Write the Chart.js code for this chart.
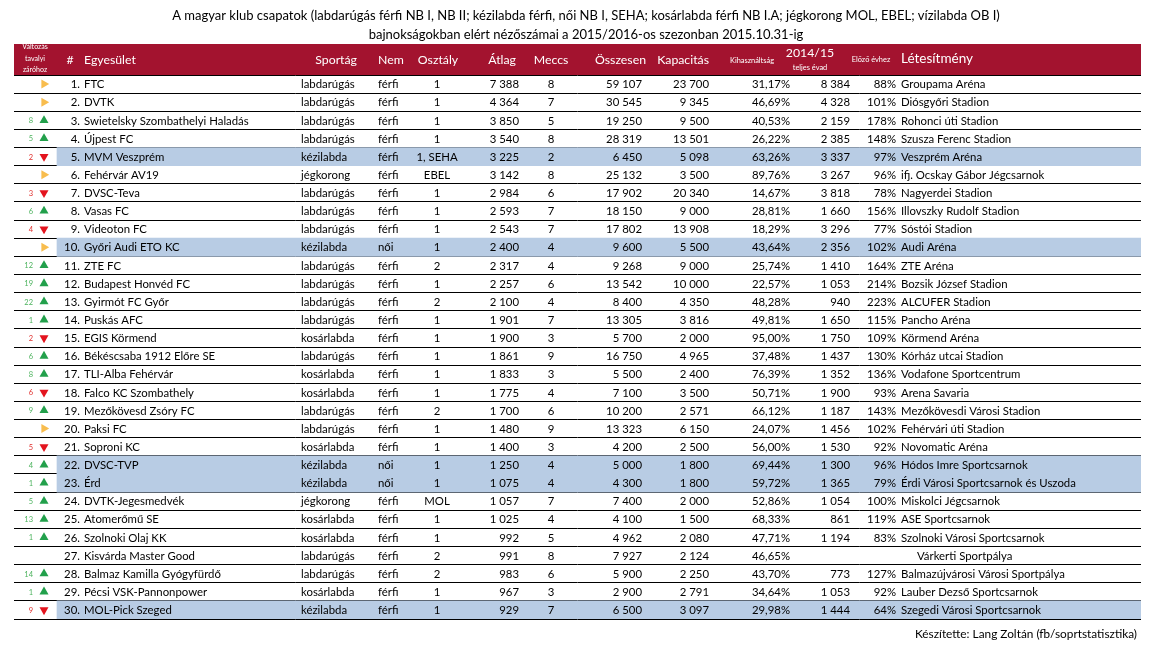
<!DOCTYPE html>
<html><head><meta charset="utf-8">
<script src="https://cdn.jsdelivr.net/npm/chart.js@4.4.1/dist/chart.umd.min.js"></script>
<style>html,body{margin:0;padding:0;background:#fff}canvas{display:block}</style>
</head><body>
<canvas id="c" width="1152" height="648" style="width:1152px;height:648px"></canvas>
<script>
// ---------------- DATA ----------------
const titleLines = [
  'A magyar klub csapatok (labdarúgás férfi NB I, NB II; kézilabda férfi, női NB I, SEHA; kosárlabda férfi NB I.A; jégkorong MOL, EBEL; vízilabda OB I)',
  'bajnokságokban elért nézőszámai a 2015/2016-os szezonban 2015.10.31-ig'
];
const footerText = 'Készítette: Lang Zoltán (fb/soprtstatisztika)';
const ranks = [1,2,3,4,5,6,7,8,9,10,11,12,13,14,15,16,17,18,19,20,21,22,23,24,25,26,27,28,29,30];
const clubs = ['FTC','DVTK','Swietelsky Szombathelyi Haladás','Újpest FC','MVM Veszprém','Fehérvár AV19','DVSC-Teva','Vasas FC','Videoton FC','Győri Audi ETO KC','ZTE FC','Budapest Honvéd FC','Gyirmót FC Győr','Puskás AFC','EGIS Körmend','Békéscsaba 1912 Előre SE','TLI-Alba Fehérvár','Falco KC Szombathely','Mezőkövesd Zsóry FC','Paksi FC','Soproni KC','DVSC-TVP','Érd','DVTK-Jegesmedvék','Atomerőmű SE','Szolnoki Olaj KK','Kisvárda Master Good','Balmaz Kamilla Gyógyfürdő','Pécsi VSK-Pannonpower','MOL-Pick Szeged'];
const sports = ['labdarúgás','labdarúgás','labdarúgás','labdarúgás','kézilabda','jégkorong','labdarúgás','labdarúgás','labdarúgás','kézilabda','labdarúgás','labdarúgás','labdarúgás','labdarúgás','kosárlabda','labdarúgás','kosárlabda','kosárlabda','labdarúgás','labdarúgás','kosárlabda','kézilabda','kézilabda','jégkorong','kosárlabda','kosárlabda','labdarúgás','labdarúgás','kosárlabda','kézilabda'];
const genders = ['férfi','férfi','férfi','férfi','férfi','férfi','férfi','férfi','férfi','női','férfi','férfi','férfi','férfi','férfi','férfi','férfi','férfi','férfi','férfi','férfi','női','női','férfi','férfi','férfi','férfi','férfi','férfi','férfi'];
const divisions = ['1','1','1','1','1, SEHA','EBEL','1','1','1','1','2','1','2','1','1','1','1','1','2','1','1','1','1','MOL','1','1','2','2','1','1'];
const averages = [7388,4364,3850,3540,3225,3142,2984,2593,2543,2400,2317,2257,2100,1901,1900,1861,1833,1775,1700,1480,1400,1250,1075,1057,1025,992,991,983,967,929];
const matches = [8,7,5,8,2,8,6,7,7,4,4,6,4,7,3,9,3,4,6,9,3,4,4,7,4,5,8,6,3,7];
const totals = [59107,30545,19250,28319,6450,25132,17902,18150,17802,9600,9268,13542,8400,13305,5700,16750,5500,7100,10200,13323,4200,5000,4300,7400,4100,4962,7927,5900,2900,6500];
const capacities = [23700,9345,9500,13501,5098,3500,20340,9000,13908,5500,9000,10000,4350,3816,2000,4965,2400,3500,2571,6150,2500,1800,1800,2000,1500,2080,2124,2250,2791,3097];
const utilization = [31.17,46.69,40.53,26.22,63.26,89.76,14.67,28.81,18.29,43.64,25.74,22.57,48.28,49.81,95.00,37.48,76.39,50.71,66.12,24.07,56.00,69.44,59.72,52.86,68.33,47.71,46.65,43.70,34.64,29.98];
const prevSeason = [8384,4328,2159,2385,3337,3267,3818,1660,3296,2356,1410,1053,940,1650,1750,1437,1352,1900,1187,1456,1530,1300,1365,1054,861,1194,null,773,1053,1444];
const vsPrev = [88,101,178,148,97,96,78,156,77,102,164,214,223,115,109,130,136,93,143,102,92,96,79,100,119,83,null,127,92,64];
const venues = ['Groupama Aréna','Diósgyőri Stadion','Rohonci úti Stadion','Szusza Ferenc Stadion','Veszprém Aréna','ifj. Ocskay Gábor Jégcsarnok','Nagyerdei Stadion','Illovszky Rudolf Stadion','Sóstói Stadion','Audi Aréna','ZTE Aréna','Bozsik József Stadion','ALCUFER Stadion','Pancho Aréna','Körmend Aréna','Kórház utcai Stadion','Vodafone Sportcentrum','Arena Savaria','Mezőkövesdi Városi Stadion','Fehérvári úti Stadion','Novomatic Aréna','Hódos Imre Sportcsarnok','Érdi Városi Sportcsarnok és Uszoda','Miskolci Jégcsarnok','ASE Sportcsarnok','Szolnoki Városi Sportcsarnok','Várkerti Sportpálya','Balmazújvárosi Városi Sportpálya','Lauber Dezső Sportcsarnok','Szegedi Városi Sportcsarnok'];
// position change vs last season's final table (positive = up, negative = down, 0 = same, null = n/a)
const changes = [0,0,8,5,-2,0,-3,6,-4,0,12,19,22,1,-2,6,8,-6,9,0,-5,4,1,5,13,1,null,14,1,-9];

// ---------------- LAYOUT / STYLE ----------------
const FONT = 'Lato, "Open Sans", sans-serif';
const HEADER_BG = '#A3132F';
const HILITE = '#B8CCE4';
const TABLE_L = 14, TABLE_R = 1141, TABLE_T = 75, TABLE_B = 619, HEADER_T = 44;
const COLX = {chg:33, arrow:44, rank:80, name:84, sport:301, gender:378, div:437, avg:519, matches:551,
              total:642, cap:709, util:790, prev:850, vs:896, venue:901, hiliteL:57};

const mctx = document.createElement('canvas').getContext('2d');
function fitSize(text, target, base){ mctx.font = base + 'px ' + FONT; return base * target / mctx.measureText(text).width; }
const BODY = fitSize('3. Swietelsky Szombathelyi Haladás', 177, 12);
const TITLE = fitSize(titleLines[0], 828, 13);

const fmt = n => n == null ? '' : String(n).replace(/\B(?=(\d{3})+(?!\d))/g, ' ');
const pct2 = v => v.toFixed(2).replace('.', ',') + '%';
const rowLabels = ranks.map(String);

const arrowPts = [], arrowColors = [], arrowRot = [];
changes.forEach((c, i) => {
  if (c === null) return;
  arrowPts.push({x: COLX.arrow, y: rowLabels[i]});
  arrowColors.push(c > 0 ? '#22A04B' : c < 0 ? '#E3141E' : '#F8BD4E');
  arrowRot.push(c > 0 ? 0 : c < 0 ? 180 : 90);
});

const tablePlugin = {
  id: 'tableText',
  afterDraw(chart) {
    const {ctx, scales: {x, y}} = chart;
    const X = k => x.getPixelForValue(COLX[k]);
    ctx.save();
    // title
    ctx.fillStyle = '#000'; ctx.textAlign = 'center'; ctx.textBaseline = 'middle';
    ctx.font = TITLE + 'px ' + FONT;
    ctx.fillText(titleLines[0], 586, 16);
    ctx.fillText(titleLines[1], 586, 35);
    // header band
    ctx.fillStyle = HEADER_BG;
    ctx.fillRect(x.left, HEADER_T, x.right - x.left, y.top - HEADER_T);
    ctx.fillStyle = '#fff';
    const hf = BODY * 1.08, sf = BODY * 0.62;
    const H = (t, px, py, al, size) => { ctx.font = size + 'px ' + FONT; ctx.textAlign = al; ctx.fillText(t, px, py); };
    ctx.save();
    ctx.beginPath(); ctx.rect(x.left, HEADER_T, x.right - x.left, y.top - HEADER_T); ctx.clip();
    H('Változás', 35, 47, 'center', sf); H('tavalyi', 35, 58.5, 'center', sf); H('záróhoz', 35, 70, 'center', sf);
    ctx.restore();
    H('#', 70, 60, 'center', hf);
    H('Egyesület', 84, 60, 'left', hf);
    H('Sportág', 357, 60, 'right', hf);
    H('Nem', 378, 60, 'left', hf);
    H('Osztály', 438, 60, 'center', hf);
    H('Átlag', 516, 60, 'right', hf);
    H('Meccs', 551, 60, 'center', hf);
    H('Összesen', 646, 60, 'right', hf);
    H('Kapacitás', 709, 60, 'right', hf);
    H('Kihasználtság', 752, 61, 'center', sf * 1.05);
    H('2014/15', 810, 53, 'center', hf);
    H('teljes évad', 810, 68, 'center', sf * 1.05);
    H('Előző évhez', 871, 60, 'center', sf * 1.05);
    H('Létesítmény', 901, 59, 'left', hf * 1.1);
    // body rows
    ctx.font = BODY + 'px ' + FONT;
    ranks.forEach((r, i) => {
      const yc = y.getPixelForValue(i) + 0.5;
      ctx.fillStyle = '#000';
      const T = (t, k, al) => { ctx.textAlign = al; ctx.fillText(t, X(k), yc); };
      T(r + '.', 'rank', 'right');
      T(clubs[i], 'name', 'left');
      T(sports[i], 'sport', 'left');
      T(genders[i], 'gender', 'left');
      T(divisions[i], 'div', 'center');
      T(fmt(averages[i]), 'avg', 'right');
      T(String(matches[i]), 'matches', 'center');
      T(fmt(totals[i]), 'total', 'right');
      T(fmt(capacities[i]), 'cap', 'right');
      T(pct2(utilization[i]), 'util', 'right');
      T(fmt(prevSeason[i]), 'prev', 'right');
      T(vsPrev[i] == null ? '' : vsPrev[i] + '%', 'vs', 'right');
      ctx.textAlign = 'left';
      ctx.fillText(venues[i], X('venue') + (vsPrev[i] == null ? 16 : 0), yc);
      const c = changes[i];
      if (c) {
        ctx.font = (BODY * 0.66) + 'px ' + FONT;
        ctx.fillStyle = c > 0 ? '#4DB35E' : '#E0302E';
        ctx.textAlign = 'right';
        ctx.fillText(String(Math.abs(c)), X('chg'), yc);
        ctx.font = BODY + 'px ' + FONT;
      }
    });
    // footer
    ctx.fillStyle = '#000'; ctx.textAlign = 'right'; ctx.font = (BODY * 1.04) + 'px ' + FONT;
    ctx.fillText(footerText, 1137, 634);
    ctx.restore();
  }
};

new Chart(document.getElementById('c'), {
  type: 'scatter',
  data: {
    labels: rowLabels,
    datasets: [
      {
        type: 'bar', indexAxis: 'y',
        data: sports.map(s => s === 'kézilabda' ? [COLX.hiliteL, TABLE_R] : null),
        backgroundColor: HILITE, borderWidth: 0,
        barPercentage: 1, categoryPercentage: 1, xAxisID: 'x', yAxisID: 'y'
      },
      {
        type: 'scatter',
        data: arrowPts,
        pointStyle: 'triangle', pointRadius: 5.2, pointRotation: arrowRot,
        pointBackgroundColor: arrowColors, pointBorderWidth: 0, pointHoverRadius: 5.2,
        showLine: false, xAxisID: 'x', yAxisID: 'y'
      }
    ]
  },
  options: {
    responsive: false, animation: false, devicePixelRatio: 1,
    layout: {padding: {left: TABLE_L, right: 1152 - TABLE_R, top: TABLE_T, bottom: 648 - TABLE_B}},
    plugins: {legend: {display: false}, tooltip: {enabled: false}, title: {display: false}},
    scales: {
      x: {type: 'linear', min: TABLE_L, max: TABLE_R, offset: false, grace: 0, display: false},
      y: {type: 'category', labels: rowLabels, offset: true, z: 1,
          grid: {offset: true, color: '#000', lineWidth: 1, drawTicks: false},
          border: {display: false},
          ticks: {display: false}}
    }
  },
  plugins: [tablePlugin]
});
</script>
</body></html>
